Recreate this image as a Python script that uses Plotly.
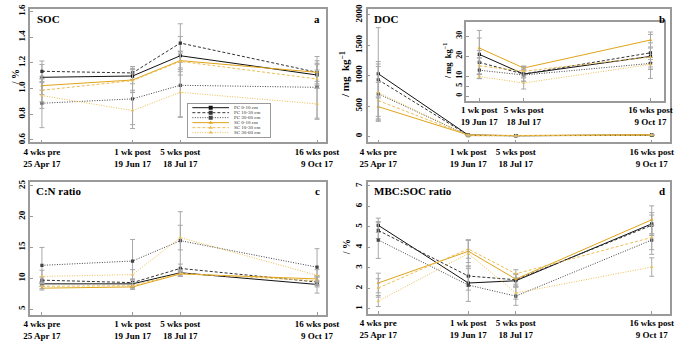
import plotly.graph_objects as go

# ---- data ----
days = [0, 55, 84, 167]          # 25 Apr, 19 Jun, 18 Jul, 9 Oct 2017
tick_text = ["4 wks pre<br>25 Apr 17", "1 wk post<br>19 Jun 17",
             "5 wks post<br>18 Jul 17", "16 wks post<br>9 Oct 17"]
series_names = ["PC 0-10 cm", "PC 10-30 cm", "PC 30-60 cm",
                "SC 0-10 cm", "SC 10-30 cm", "SC 30-60 cm"]

soc = [[1.087, 1.097, 1.255, 1.105],
       [1.134, 1.121, 1.354, 1.126],
       [0.885, 0.919, 1.025, 1.009],
       [1.022, 1.066, 1.217, 1.126],
       [0.986, 1.061, 1.211, 1.074],
       [0.945, 0.828, 0.970, 0.880]]
soc_err = [[0.10, 0.06, 0.15, 0.08],
           [0.08, 0.05, 0.15, 0.09],
           [0.19, 0.20, 0.25, 0.24],
           [0.07, 0.08, 0.07, 0.07],
           [0.09, 0.09, 0.08, 0.07],
           [0.10, 0.14, 0.19, 0.12]]

doc = [[1031, 20.8, 11.0, 19.8],
       [932, 16.8, 11.0, 21.6],
       [700, 12.9, 10.5, 16.3],
       [489, 24.0, 14.0, 28.0],
       [589, 15.1, 12.4, 19.5],
       [722, 9.7, 6.5, 15.8]]
doc_err = [[760, 12.0, 3.8, 11.0],
           [300, 6.0, 2.0, 5.0],
           [450, 4.2, 3.0, 3.0],
           [160, 5.0, 1.0, 4.0],
           [300, 4.0, 2.0, 5.0],
           [470, 1.0, 3.0, 2.4]]

cn = [[9.1, 9.1, 10.9, 9.0],
      [9.7, 9.3, 11.6, 9.4],
      [12.1, 12.8, 16.1, 11.8],
      [8.4, 8.6, 10.7, 9.9],
      [8.7, 8.8, 10.8, 9.6],
      [10.3, 10.6, 16.6, 10.5]]
cn_err = [[0.4, 0.6, 0.5, 1.4],
          [0.5, 0.6, 0.7, 0.8],
          [2.9, 3.5, 4.7, 3.0],
          [0.3, 0.4, 0.4, 0.5],
          [0.4, 0.5, 0.5, 0.6],
          [1.0, 0.8, 2.0, 0.9]]

mbc = [[5.08, 2.26, 2.37, 5.15],
       [4.83, 2.60, 2.42, 5.08],
       [4.36, 2.16, 1.62, 4.36],
       [2.26, 3.81, 2.45, 5.35],
       [2.02, 3.92, 2.71, 4.49],
       [1.38, 3.70, 1.77, 3.04]]
mbc_err = [[0.35, 0.35, 0.30, 0.55],
           [0.40, 0.50, 0.30, 0.50],
           [0.90, 0.80, 0.45, 0.70],
           [0.48, 0.55, 0.25, 0.68],
           [0.45, 0.45, 0.20, 0.60],
           [0.27, 0.65, 0.30, 0.45]]

# ---- styles ----
BLACK = "#111111"
ORANGE = "#E0A419"
LIGHTOR = "#EBBE55"
colors = [BLACK, "#333333", "#444444", ORANGE, LIGHTOR, LIGHTOR]
dashes = ["solid", "3px,2px", "1px,1.5px", "solid", "3px,2px", "1px,1.5px"]
symbols = ["square", "square", "square", "triangle-up", "triangle-up", "triangle-up"]
FONT = "Liberation Serif"
GRID = "#9a9a9a"

fig = go.Figure()


def add_panel(data, err, xa, ya, xs):
    for i in range(6):
        fig.add_trace(go.Scatter(
            x=xs, y=data[i], xaxis=xa, yaxis=ya, name=series_names[i],
            mode="lines+markers", showlegend=False,
            line=dict(color=colors[i], width=1, dash=dashes[i]),
            marker=dict(color=colors[i], symbol=symbols[i], size=3.2),
            error_y=dict(type="data", array=err[i], color="#a8a8a8",
                         thickness=1, width=2.5)))


add_panel(soc, soc_err, "x", "y", days)
add_panel(doc, doc_err, "x2", "y2", days)
add_panel(cn, cn_err, "x3", "y3", days)
add_panel(mbc, mbc_err, "x4", "y4", days)
add_panel([d[1:] for d in doc], [e[1:] for e in doc_err], "x5", "y5", days[1:])

# compact legend drawn on its own small axis (legend slot index = row)
rows = list(range(6))
for i in rows:
    fig.add_trace(go.Scatter(
        x=[0.05, 0.5], y=[i + 0.5, i + 0.5], xaxis="x6", yaxis="y6",
        mode="lines", showlegend=False, hoverinfo="skip",
        line=dict(color=colors[i], width=1, dash=dashes[i])))
    fig.add_trace(go.Scatter(
        x=[0.275], y=[i + 0.5], xaxis="x6", yaxis="y6", name=series_names[i],
        mode="markers", showlegend=False, hoverinfo="skip",
        marker=dict(color=colors[i], symbol=symbols[i], size=4)))

W, H = 685, 341


def px(x):
    return x / W


def py(y):
    return 1 - y / H


tickfont = dict(family=FONT, size=9, color="black")
bold_tt = ["<b>" + t.replace("<br>", "</b><br><b>") + "</b>" for t in tick_text]
common_x = dict(showgrid=False, zeroline=False, showline=True, mirror=True,
                linecolor=GRID, linewidth=1.5, ticks="inside", ticklen=3,
                tickcolor=GRID, tickfont=tickfont, tickvals=days, ticktext=bold_tt)
common_y = dict(showgrid=False, zeroline=False, showline=True, mirror=True,
                linecolor=GRID, linewidth=1.5, ticks="inside", ticklen=3,
                tickcolor=GRID, tickangle=-90,
                tickfont=dict(family=FONT, size=9, color="black"))

fig.update_layout(
    width=W, height=H, margin=dict(l=0, r=0, t=0, b=0),
    paper_bgcolor="white", plot_bgcolor="white",
    font=dict(family=FONT, color="black"),
    showlegend=False,
    xaxis=dict(common_x, domain=[px(23), px(328)], range=[-7.06, 172.4], anchor="y"),
    yaxis=dict(common_y, domain=[py(142), py(4)], range=[0.58, 1.62], anchor="x",
               tickvals=[0.6, 0.8, 1.0, 1.2, 1.4, 1.6],
               ticktext=["<b>%.1f</b>" % v for v in [0.6, 0.8, 1.0, 1.2, 1.4, 1.6]]),
    xaxis2=dict(common_x, domain=[px(371), px(683)], range=[-6.5, 178.2], anchor="y2"),
    yaxis2=dict(common_y, domain=[py(142), py(4)], range=[-100, 2100], anchor="x2",
                tickvals=[0, 500, 1000, 1500, 2000],
                ticktext=["<b>%d</b>" % v for v in [0, 500, 1000, 1500, 2000]]),
    xaxis3=dict(common_x, domain=[px(23), px(328)], range=[-7.06, 172.4], anchor="y3"),
    yaxis3=dict(common_y, domain=[py(320), py(183)], range=[4.1, 25.6], anchor="x3",
                tickvals=[5, 10, 15, 20, 25],
                ticktext=["<b>%d</b>" % v for v in [5, 10, 15, 20, 25]]),
    xaxis4=dict(common_x, domain=[px(371), px(683)], range=[-6.5, 178.2], anchor="y4"),
    yaxis4=dict(common_y, domain=[py(319), py(183)], range=[0.76, 7.19], anchor="x4",
                tickvals=[1, 2, 3, 4, 5, 6, 7],
                ticktext=["<b>%d</b>" % v for v in range(1, 8)]),
    xaxis5=dict(common_x, domain=[px(473), px(677)], range=[46.6, 176], anchor="y5",
                tickvals=days[1:], ticktext=bold_tt[1:]),
    yaxis5=dict(common_y, domain=[py(99), py(18)], range=[-2.4, 36.8], anchor="x5",
                tickvals=[0, 5, 10, 20, 30], tickfont=dict(family=FONT, size=8, color="black"),
                ticktext=["<b>%d</b>" % v for v in [0, 5, 10, 20, 30]]),
    xaxis6=dict(domain=[px(186), px(270)], range=[0, 1], anchor="y6",
                showgrid=False, zeroline=False, showticklabels=False,
                showline=True, mirror=True, linecolor=GRID, linewidth=1.2, ticks=""),
    yaxis6=dict(domain=[py(136), py(102)], range=[6.3, -0.3], anchor="x6",
                showgrid=False, zeroline=False, showticklabels=False,
                showline=True, mirror=True, linecolor=GRID, linewidth=1.2, ticks=""),
)

ann = []


def label(text, x, y, xanchor="left", yanchor="top", size=11, angle=0):
    ann.append(dict(text=text, x=px(x), y=py(y), xref="paper", yref="paper",
                    xanchor=xanchor, yanchor=yanchor, showarrow=False,
                    textangle=angle, font=dict(family=FONT, size=size, color="black")))


label("<b>SOC</b>", 28, 6)
label("<b>a</b>", 324, 6, xanchor="right")
label("<b>DOC</b>", 375, 6)
label("<b>b</b>", 680, 6, xanchor="right")
label("<b>C:N ratio</b>", 27, 184)
label("<b>c</b>", 324, 184, xanchor="right")
label("<b>MBC:SOC ratio</b>", 375, 184)
label("<b>d</b>", 680, 184, xanchor="right")
label("<b>/ %</b>", 8, 75, xanchor="center", yanchor="middle", size=10, angle=-90)
label("<b>/ mg  kg<sup>−1</sup></b>", 347, 72, xanchor="center", yanchor="middle", size=11, angle=-90)
label("<b>/ mg  kg<sup>−1</sup></b>", 453, 58, xanchor="center", yanchor="middle", size=8.5, angle=-90)
label("<b>/ %</b>", 350, 250, xanchor="center", yanchor="middle", size=10, angle=-90)

for i in rows:
    ann.append(dict(text=series_names[i], x=0.54, y=i + 0.5, xref="x6", yref="y6",
                    xanchor="left", yanchor="middle", showarrow=False,
                    font=dict(family=FONT, size=5, color="#333")))

fig.update_layout(annotations=ann)
fig.write_html("out.html", config={"displayModeBar": False},
               post_script="document.body.style.margin='0';document.body.style.overflow='hidden';")
